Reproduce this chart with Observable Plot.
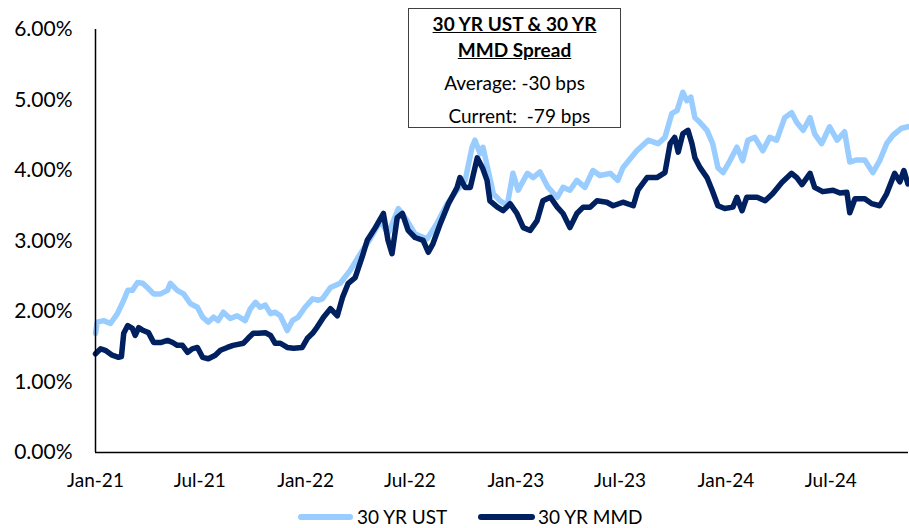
<!DOCTYPE html>
<html>
<head>
<meta charset="utf-8">
<script src="https://cdn.jsdelivr.net/npm/d3@7"></script>
<script src="https://cdn.jsdelivr.net/npm/@observablehq/plot@0.6"></script>
<style>
  html, body { margin: 0; padding: 0; background: #fff; }
  #wrap { position: relative; width: 909px; height: 528px; font-family: Lato, "Open Sans", sans-serif; color: #000; }
  #box { position: absolute; left: 408px; top: 8px; width: 211px; height: 118px; border: 1.5px solid #404040; background: #fff; }
  #box div { position: absolute; left: 0; right: 0; text-align: center; font-size: 19px; line-height: 22px; white-space: pre; }
  .b { font-weight: bold; text-decoration: underline; }
  #legend { position: relative; height: 23px; font-size: 19px; }
  .li { position: absolute; top: 0; height: 23px; display: flex; align-items: center; }
  .sw { display: inline-block; height: 6px; border-radius: 3px; }
</style>
</head>
<body>
<div id="wrap">
  <div id="chart"></div>
  <div id="legend">
    <div class="li" style="left:298px"><span class="sw" style="width:55px;background:#99CCFF"></span><span style="margin-left:4px">30 YR UST</span></div>
    <div class="li" style="left:478px"><span class="sw" style="width:57px;background:#002060"></span><span style="margin-left:3px">30 YR MMD</span></div>
  </div>
  <div id="box">
    <div class="b" style="top:4px">30 YR UST &amp; 30 YR</div>
    <div class="b" style="top:30px">MMD Spread</div>
    <div style="top:63px">Average: -30 bps</div>
    <div style="top:96px">  Current:  -79 bps</div>
  </div>
</div>
<script>
const ustDates = ["2021-01-01","2021-01-04","2021-01-15","2021-01-27","2021-02-08","2021-02-19","2021-02-26","2021-03-06","2021-03-15","2021-03-24","2021-04-01","2021-04-12","2021-04-24","2021-05-06","2021-05-11","2021-05-23","2021-06-03","2021-06-15","2021-06-27","2021-07-06","2021-07-16","2021-07-25","2021-08-02","2021-08-11","2021-08-23","2021-09-04","2021-09-18","2021-09-27","2021-10-06","2021-10-14","2021-10-23","2021-11-01","2021-11-09","2021-11-18","2021-11-30","2021-12-09","2021-12-19","2021-12-31","2022-01-13","2022-01-23","2022-01-30","2022-02-13","2022-03-02","2022-03-19","2022-04-06","2022-04-23","2022-05-11","2022-05-24","2022-06-11","2022-06-26","2022-07-10","2022-07-31","2022-08-17","2022-09-04","2022-09-21","2022-10-05","2022-10-17","2022-10-22","2022-10-31","2022-11-05","2022-11-14","2022-11-23","2022-12-05","2022-12-17","2022-12-27","2023-01-05","2023-01-21","2023-01-31","2023-02-12","2023-02-26","2023-03-14","2023-03-24","2023-04-05","2023-04-17","2023-05-01","2023-05-15","2023-05-27","2023-06-14","2023-06-27","2023-07-06","2023-07-30","2023-08-19","2023-09-05","2023-09-17","2023-09-29","2023-10-08","2023-10-18","2023-10-25","2023-11-01","2023-11-08","2023-11-17","2023-11-29","2023-12-09","2023-12-18","2023-12-27","2024-01-08","2024-01-20","2024-01-30","2024-02-08","2024-02-20","2024-03-05","2024-03-17","2024-03-29","2024-04-12","2024-04-24","2024-05-03","2024-05-14","2024-05-26","2024-06-03","2024-06-15","2024-06-29","2024-07-12","2024-07-25","2024-08-03","2024-08-15","2024-08-29","2024-09-12","2024-09-24","2024-10-06","2024-10-17","2024-11-01","2024-11-12"];
const ustValues = [1.69,1.85,1.87,1.83,1.97,2.16,2.30,2.30,2.41,2.40,2.34,2.25,2.25,2.30,2.40,2.30,2.25,2.11,2.06,1.92,1.85,1.92,1.87,1.99,1.90,1.94,1.87,2.04,2.13,2.06,2.09,1.97,1.99,1.94,1.73,1.87,1.92,2.06,2.18,2.16,2.18,2.34,2.40,2.58,2.82,3.03,3.29,3.10,3.46,3.29,3.10,3.03,3.25,3.53,3.72,3.86,4.33,4.43,4.24,4.33,4.00,3.67,3.57,3.50,3.96,3.72,3.96,3.90,3.98,3.76,3.62,3.76,3.72,3.86,3.76,4.00,3.93,3.96,3.86,4.04,4.28,4.43,4.38,4.47,4.81,4.85,5.11,4.99,5.04,4.75,4.68,4.57,4.38,4.04,3.97,4.14,4.33,4.14,4.43,4.47,4.28,4.47,4.43,4.75,4.82,4.68,4.57,4.75,4.52,4.38,4.62,4.43,4.55,4.12,4.15,4.15,3.97,4.14,4.38,4.50,4.60,4.62];

const mmdDates = ["2021-01-01","2021-01-10","2021-01-18","2021-01-30","2021-02-10","2021-02-15","2021-02-19","2021-02-26","2021-03-06","2021-03-11","2021-03-17","2021-03-25","2021-04-03","2021-04-12","2021-04-24","2021-05-06","2021-05-15","2021-05-23","2021-06-01","2021-06-10","2021-06-18","2021-06-27","2021-07-06","2021-07-16","2021-07-28","2021-08-06","2021-08-18","2021-08-28","2021-09-15","2021-09-23","2021-10-02","2021-10-11","2021-10-23","2021-11-01","2021-11-09","2021-11-18","2021-11-30","2021-12-11","2021-12-26","2022-01-04","2022-01-13","2022-01-21","2022-02-01","2022-02-13","2022-02-25","2022-03-06","2022-03-16","2022-03-28","2022-04-09","2022-04-18","2022-05-02","2022-05-16","2022-05-24","2022-05-31","2022-06-09","2022-06-18","2022-06-28","2022-07-10","2022-07-24","2022-08-02","2022-08-10","2022-08-23","2022-09-06","2022-09-21","2022-09-26","2022-10-05","2022-10-14","2022-10-26","2022-11-04","2022-11-12","2022-11-17","2022-11-30","2022-12-10","2022-12-22","2023-01-03","2023-01-14","2023-01-26","2023-02-07","2023-02-17","2023-03-02","2023-03-14","2023-03-24","2023-04-05","2023-04-17","2023-04-28","2023-05-10","2023-05-22","2023-06-08","2023-06-19","2023-07-06","2023-07-24","2023-08-01","2023-08-17","2023-09-03","2023-09-17","2023-09-26","2023-10-04","2023-10-10","2023-10-18","2023-10-27","2023-11-03","2023-11-08","2023-11-17","2023-11-29","2023-12-08","2023-12-18","2023-12-30","2024-01-13","2024-01-20","2024-01-29","2024-02-06","2024-02-24","2024-03-09","2024-03-22","2024-04-07","2024-04-24","2024-05-03","2024-05-12","2024-05-26","2024-06-03","2024-06-17","2024-07-05","2024-07-17","2024-07-29","2024-08-03","2024-08-12","2024-08-29","2024-09-10","2024-09-24","2024-10-06","2024-10-20","2024-10-29","2024-11-05","2024-11-12"];
const mmdValues = [1.40,1.47,1.45,1.38,1.35,1.36,1.69,1.80,1.76,1.66,1.77,1.73,1.70,1.56,1.56,1.59,1.56,1.52,1.52,1.42,1.47,1.49,1.35,1.33,1.38,1.45,1.49,1.52,1.55,1.62,1.69,1.69,1.70,1.66,1.55,1.55,1.49,1.48,1.49,1.62,1.69,1.78,1.92,2.04,1.94,2.20,2.40,2.48,2.77,3.01,3.19,3.39,3.01,2.82,3.33,3.39,3.15,3.05,3.01,2.84,2.96,3.25,3.53,3.76,3.90,3.76,3.76,4.18,4.04,3.86,3.57,3.48,3.43,3.53,3.39,3.19,3.15,3.29,3.57,3.62,3.48,3.39,3.19,3.39,3.48,3.48,3.57,3.55,3.50,3.55,3.50,3.72,3.90,3.90,3.97,4.38,4.47,4.26,4.52,4.57,4.38,4.18,4.04,3.90,3.72,3.50,3.46,3.48,3.62,3.43,3.62,3.62,3.57,3.67,3.83,3.96,3.90,3.80,3.96,3.76,3.70,3.72,3.68,3.69,3.40,3.60,3.60,3.53,3.50,3.67,3.96,3.84,4.00,3.81];

const xTicks = ["2021-01-01","2021-07-01","2022-01-01","2022-07-01","2023-01-01","2023-07-01","2024-01-01","2024-07-01"];
const yTicks = [0,1,2,3,4,5,6];

const ust = ustDates.map((d,i) => ({date: new Date(d), value: ustValues[i]}));
const mmd = mmdDates.map((d,i) => ({date: new Date(d), value: mmdValues[i]}));
const xStart = new Date("2021-01-01");
const xEnd = new Date("2024-11-13");

const chart = Plot.plot({
  width: 909,
  height: 505,
  marginLeft: 95,
  marginRight: 1,
  marginTop: 29,
  marginBottom: 53,
  style: {fontFamily: "Lato, 'Open Sans', sans-serif", fontSize: "19px", color: "#000", background: "#fff"},
  x: {type: "utc", domain: [xStart, xEnd]},
  y: {domain: [0, 6]},
  marks: [
    Plot.axisY({ticks: yTicks, tickSize: 0, tickPadding: 23, tickFormat: d => d.toFixed(2) + "%", label: null, fontSize: 21}),
    Plot.axisX({ticks: xTicks.map(d => new Date(d)), tickSize: 0, tickPadding: 21, tickFormat: d3.utcFormat("%b-%y"), label: null, fontSize: 19}),
    Plot.line(ust, {x: "date", y: "value", stroke: "#99CCFF", strokeWidth: 5.5, strokeLinejoin: "round", strokeLinecap: "round"}),
    Plot.line(mmd, {x: "date", y: "value", stroke: "#002060", strokeWidth: 5.5, strokeLinejoin: "round", strokeLinecap: "round"}),
    Plot.ruleX([xStart], {y1: 0, y2: 6, stroke: "#000", strokeWidth: 1.5}),
    Plot.ruleY([0], {stroke: "#000", strokeWidth: 1.5})
  ]
});
document.getElementById("chart").appendChild(chart);
</script>
</body>
</html>
